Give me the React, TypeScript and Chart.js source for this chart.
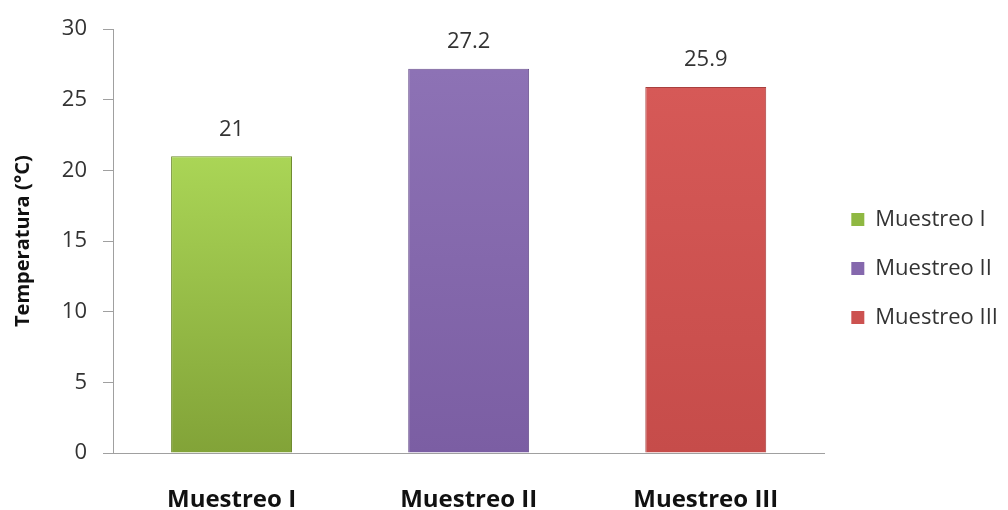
import React, { useEffect, useRef } from "react";
import { Chart, registerables } from "chart.js";

Chart.register(...registerables);

const categories = ["Muestreo I", "Muestreo II", "Muestreo III"];
const values = [21, 27.2, 25.9];
const topColors = ["#aad556", "#8d72b5", "#d65957"];
const bottomColors = ["#82a338", "#7b5ea3", "#c64c4a"];
const borderColors = ["#6f8b30", "#6c5390", "#a8403e"];
const legendColors = ["#8fb842", "#8568ad", "#cc5250"];
const yTicks = [0, 5, 10, 15, 20, 25, 30];
const yTitle = "Temperatura (°C)";

const FONT = "'Open Sans', 'Noto Sans', sans-serif";

const valueLabels = {
  id: "valueLabels",
  afterDatasetsDraw(chart: any) {
    const ctx = chart.ctx;
    const meta = chart.getDatasetMeta(0);
    ctx.save();
    ctx.font = `22px ${FONT}`;
    ctx.fillStyle = "#333333";
    ctx.textAlign = "center";
    ctx.textBaseline = "bottom";
    meta.data.forEach((bar: any, i: number) => {
      ctx.fillText(String(values[i]), bar.x, bar.y - 16);
    });
    ctx.restore();
  },
};

export default function App() {
  const ref = useRef<HTMLCanvasElement | null>(null);
  useEffect(() => {
    if (!ref.current) return;
    const chart = new Chart(ref.current, {
      type: "bar",
      data: {
        labels: categories,
        datasets: [
          {
            label: "Temperatura",
            data: values,
            backgroundColor: (c: any) => {
              const i = c.dataIndex;
              const ch = c.chart;
              const area = ch.chartArea;
              if (!area || i === undefined) return topColors[i ?? 0];
              const yTop = ch.scales.y.getPixelForValue(values[i]);
              const g = ch.ctx.createLinearGradient(0, yTop, 0, area.bottom);
              g.addColorStop(0, topColors[i]);
              g.addColorStop(1, bottomColors[i]);
              return g;
            },
            borderColor: borderColors,
            borderWidth: 1,
            categoryPercentage: 0.51,
            barPercentage: 1,
          },
        ],
      },
      options: {
        responsive: false,
        animation: false,
        layout: { padding: { top: 27, left: 0, right: 0, bottom: 0 } },
        plugins: {
          tooltip: { enabled: false },
          legend: {
            position: "right",
            labels: {
              font: { family: FONT, size: 22 },
              color: "#333333",
              boxWidth: 13,
              boxHeight: 13,
              padding: 27,
              generateLabels: () =>
                categories.map((c, i) => ({
                  text: c,
                  fillStyle: legendColors[i],
                  strokeStyle: borderColors[i],
                  lineWidth: 0,
                  hidden: false,
                  index: i,
                  datasetIndex: 0,
                  fontColor: "#333333",
                })),
            },
          },
        },
        scales: {
          x: {
            grid: { display: false },
            border: { display: true, color: "#a0a0a0", width: 1 },
            ticks: {
              font: { family: FONT, size: 24, weight: "bold" },
              color: "#111111",
              padding: 25,
              maxRotation: 0,
            },
            afterFit: (s: any) => {
              s.height = 57;
            },
          },
          y: {
            min: 0,
            max: 30,
            afterBuildTicks: (s: any) => {
              s.ticks = yTicks.map((v) => ({ value: v }));
            },
            grid: {
              drawOnChartArea: false,
              drawTicks: true,
              tickLength: 10,
              color: "#a0a0a0",
            },
            border: { display: true, color: "#a0a0a0", width: 1 },
            ticks: {
              font: { family: FONT, size: 22 },
              color: "#333333",
              padding: 16,
            },
            title: {
              display: true,
              text: yTitle,
              font: { family: FONT, size: 20, weight: "bold" },
              color: "#111111",
              padding: { top: 11, bottom: 0 },
            },
            afterFit: (s: any) => {
              s.width = 113;
            },
          },
        },
      },
      plugins: [valueLabels],
    });
    return () => chart.destroy();
  }, []);
  return (
    <div style={{ position: "fixed", left: 0, top: 0, width: 1008, height: 510, background: "#fff" }}>
      <canvas ref={ref} width={1008} height={510} />
    </div>
  );
}
